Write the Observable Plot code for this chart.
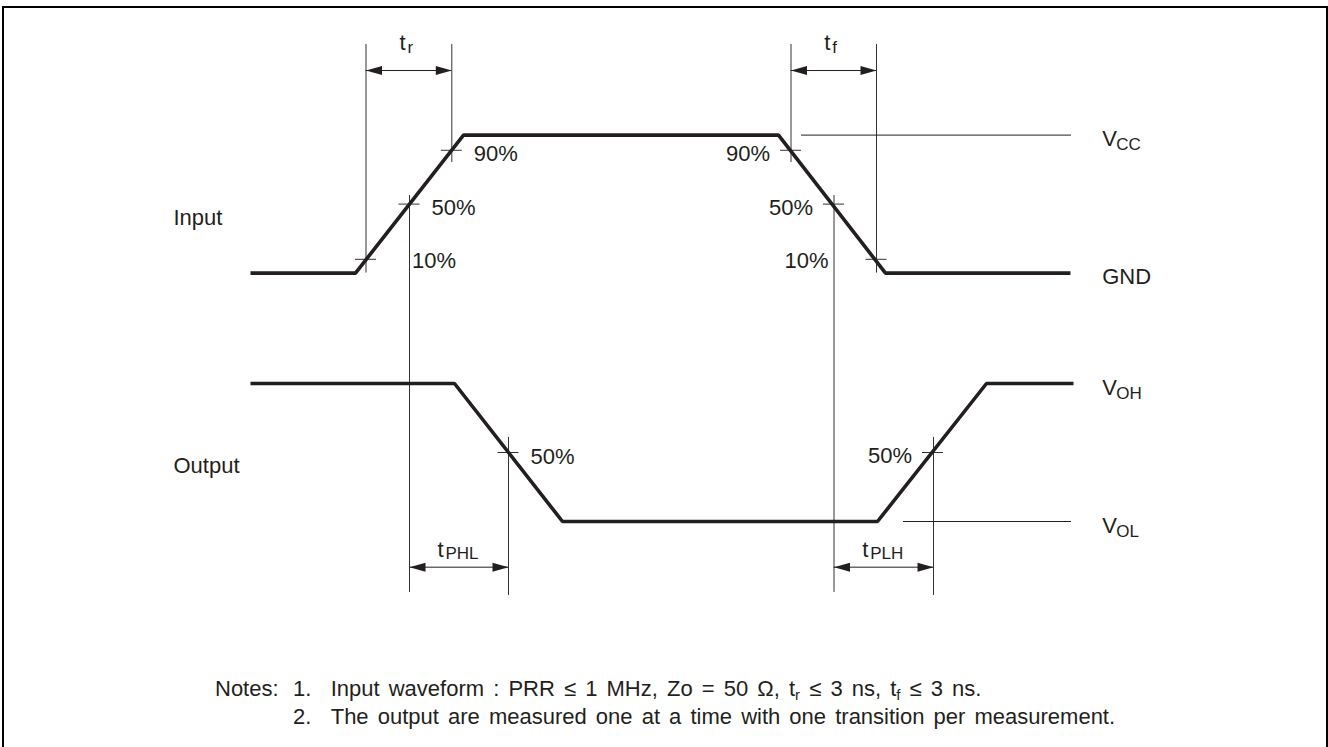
<!DOCTYPE html>
<html>
<head>
<meta charset="utf-8">
<script src="https://cdn.jsdelivr.net/npm/d3@7"></script>
<script src="https://cdn.jsdelivr.net/npm/@observablehq/plot@0.6"></script>
<style>
  html, body { margin: 0; padding: 0; background: #fff; width: 1328px; height: 747px; overflow: hidden; }
  #frame { position: absolute; left: 2px; top: 6px; width: 1325.5px; height: 820px; border: 2.5px solid #000; box-sizing: border-box; }
  #chart { position: absolute; left: 0; top: 0; }
  .note { position: absolute; font-family: "Liberation Sans", Arial, sans-serif; font-size: 22px; line-height: 28px; color: #231f20; white-space: nowrap; word-spacing: 3px; }
  .note .num { display: inline-block; width: 37.7px; }
  .note sub { font-size: 15px; vertical-align: -4px; line-height: 0; }
</style>
</head>
<body>
<div id="frame"></div>
<div id="chart"></div>
<div id="notes"></div>
<script>
// ---------------- data ----------------
// Time axis in diagram units, levels as fraction of the swing (0 = low, 1 = high)
const signals = ["Input", "Output"];
const rowBase = [1.8, 0];                      // vertical offset of each row (level units)

const inputTime   = [0, 10.5, 21.3, 52.8, 63.5, 82.0];
const inputLevel  = [0, 0, 1, 1, 0, 0];
const outputTime  = [0, 20.4, 31.2, 62.7, 73.6, 82.3];
const outputLevel = [1, 1, 0, 0, 1, 1];

// measurement crossings on the edges
const crossSignal = ["Input", "Input", "Input", "Input", "Input", "Input", "Output", "Output"];
const crossTime   = [11.55, 15.9, 20.13, 54.05, 58.35, 62.6, 25.8, 68.25];
const crossLevel  = [0.1, 0.5, 0.89, 0.89, 0.5, 0.1, 0.5, 0.5];
const crossText   = ["10%", "50%", "90%", "90%", "50%", "10%", "50%", "50%"];
const crossSide   = ["far-right", "right", "right", "left", "left", "far-left", "right", "left"];

// thin vertical guide lines (stacked level units)
const guideTime   = [11.55, 20.13, 54.05, 62.6, 15.9, 58.35, 25.8, 68.3];
const guideTop    = [3.457, 3.457, 3.457, 3.457, 2.362, 2.362, 0.609, 0.609];
const guideBottom = [1.8, 2.601, 2.601, 1.8, -0.514, -0.514, -0.536, -0.536];

// dimension arrows
const spanSub   = ["r", "f", "PHL", "PLH"];
const spanStart = [11.55, 54.05, 15.9, 58.35];
const spanEnd   = [20.13, 62.6, 25.8, 68.3];
const spanLevel = [3.268, 3.268, -0.331, -0.331];

// thin reference levels
const refName  = ["VCC", "VOL"];
const refStart = [55.1, 65.3];
const refEnd   = [82.1, 82.1];
const refLevel = [2.8, 0];

// level labels on the right
const levelMain  = ["V", "GND", "V", "V"];
const levelSub   = ["CC", "", "OH", "OL"];
const levelValue = [2.8, 1.8, 1, 0];
const levelLabelTime = 85.17;

// row labels
const rowLabelTime = -7.7;
const rowLabelLevel = 0.35;

// notes
const notesHead = "Notes:";
const notesNum = ["1.", "2."];
const notesText = [
  "Input waveform : PRR \u2264 1 MHz, Zo = 50 \u03A9, t<sub>r</sub> \u2264 3 ns, t<sub>f</sub> \u2264 3 ns.",
  "The output are measured one at a time with one transition per measurement."
];

// ---------------- build tables ----------------
const wave = [
  ...inputTime.map((t, i) => ({signal: "Input", t, v: rowBase[0] + inputLevel[i]})),
  ...outputTime.map((t, i) => ({signal: "Output", t, v: rowBase[1] + outputLevel[i]}))
];
const crosses = crossTime.map((t, i) => ({
  t, v: rowBase[signals.indexOf(crossSignal[i])] + crossLevel[i], text: crossText[i], side: crossSide[i]
}));
const guides = guideTime.map((t, i) => ({t, top: guideTop[i], bottom: guideBottom[i]}));
const spans = spanSub.map((s, i) => ({sub: s, start: spanStart[i], end: spanEnd[i], v: spanLevel[i], mid: (spanStart[i] + spanEnd[i]) / 2}));
const refs = refName.map((n, i) => ({name: n, start: refStart[i], end: refEnd[i], v: refLevel[i]}));
const levels = levelMain.map((m, i) => ({main: m, sub: levelSub[i], v: levelValue[i], t: levelLabelTime}));
const rows = signals.map((s, i) => ({name: s, t: rowLabelTime, v: rowBase[i] + rowLabelLevel}));

// ---------------- styling ----------------
const W = 1328, H = 640;
const ink = "#231f20";
const thin = "#333";
const font = "Liberation Sans, Arial, Helvetica, sans-serif";
const arrowHead = {
  draw(ctx) { ctx.moveTo(0, 0); ctx.lineTo(-16, -4.5); ctx.lineTo(-16, 4.5); ctx.closePath(); }
};
const txt = {fontFamily: font, fontSize: 22, fill: ink, lineAnchor: "bottom"};
const sub = {fontFamily: font, fontSize: 17, fill: ink, lineAnchor: "bottom", textAnchor: "start"};

const chart = Plot.plot({
  width: W,
  height: H,
  margin: 0,
  x: {domain: [-25, 107.8], range: [0, W], axis: null},
  y: {domain: [(521 - H) / 138, 521 / 138], range: [H, 0], axis: null},
  style: {background: "transparent", overflow: "visible"},
  marks: [
    // guides
    Plot.ruleX(guides, {x: "t", y1: "top", y2: "bottom", stroke: thin, strokeWidth: 1}),
    // reference levels
    Plot.ruleY(refs, {y: "v", x1: "start", x2: "end", stroke: ink, strokeWidth: 1}),
    // crossing ticks
    Plot.ruleY(crosses, {y: "v", x1: d => d.t - 1.05, x2: d => d.t + 1.05, stroke: thin, strokeWidth: 1}),
    // dimension arrows
    Plot.ruleY(spans, {y: "v", x1: "start", x2: "end", stroke: ink, strokeWidth: 1}),
    Plot.dot(spans, {x: "end", y: "v", symbol: arrowHead, rotate: 0, fill: ink, stroke: "none"}),
    Plot.dot(spans, {x: "start", y: "v", symbol: arrowHead, rotate: 180, fill: ink, stroke: "none"}),
    // waveforms
    Plot.line(wave, {x: "t", y: "v", z: "signal", stroke: ink, strokeWidth: 3.6, strokeLinejoin: "miter", strokeLinecap: "butt"}),
    // percentage labels
    Plot.text(crosses.filter(d => d.side === "right"), {...txt, x: "t", y: "v", text: "text", textAnchor: "start", dx: 22, dy: 11}),
    Plot.text(crosses.filter(d => d.side === "left"), {...txt, x: "t", y: "v", text: "text", textAnchor: "end", dx: -21, dy: 10.5}),
    Plot.text(crosses.filter(d => d.side === "far-right"), {...txt, x: "t", y: "v", text: "text", textAnchor: "start", dx: 46, dy: 9}),
    Plot.text(crosses.filter(d => d.side === "far-left"), {...txt, x: "t", y: "v", text: "text", textAnchor: "end", dx: -48, dy: 9}),
    // row labels
    Plot.text(rows, {...txt, x: "t", y: "v", text: "name", textAnchor: "start"}),
    // level labels
    Plot.text(levels, {...txt, x: "t", y: "v", text: "main", textAnchor: "start", dy: 11}),
    Plot.text(levels, {...sub, x: "t", y: "v", text: "sub", dx: 14, dy: 15}),
    // span labels (t + subscript)
    Plot.text(spans.filter(d => d.sub.length === 1), {...txt, x: "mid", y: "v", text: () => "t", textAnchor: "start", dx: -9.5, dy: -21}),
    Plot.text(spans.filter(d => d.sub.length === 1), {...sub, x: "mid", y: "v", text: "sub", dx: -1.5, dy: -18}),
    Plot.text(spans.filter(d => d.sub.length > 1), {...txt, x: "mid", y: "v", text: () => "t", textAnchor: "start", dx: -21.5, dy: -10}),
    Plot.text(spans.filter(d => d.sub.length > 1), {...sub, x: "mid", y: "v", text: "sub", dx: -13.5, dy: -8})
  ]
});
document.getElementById("chart").appendChild(chart);

// notes (caption below the diagram)
const notes = document.getElementById("notes");
const lineTops = [675.1, 702.9];
const head = document.createElement("div");
head.className = "note";
head.style.left = "215px";
head.style.top = lineTops[0] + "px";
head.textContent = notesHead;
notes.appendChild(head);
notesText.forEach((t, i) => {
  const el = document.createElement("div");
  el.className = "note";
  el.style.left = "293px";
  el.style.top = lineTops[i] + "px";
  el.innerHTML = `<span class="num">${notesNum[i]}</span>${t}`;
  notes.appendChild(el);
});
</script>
</body>
</html>
